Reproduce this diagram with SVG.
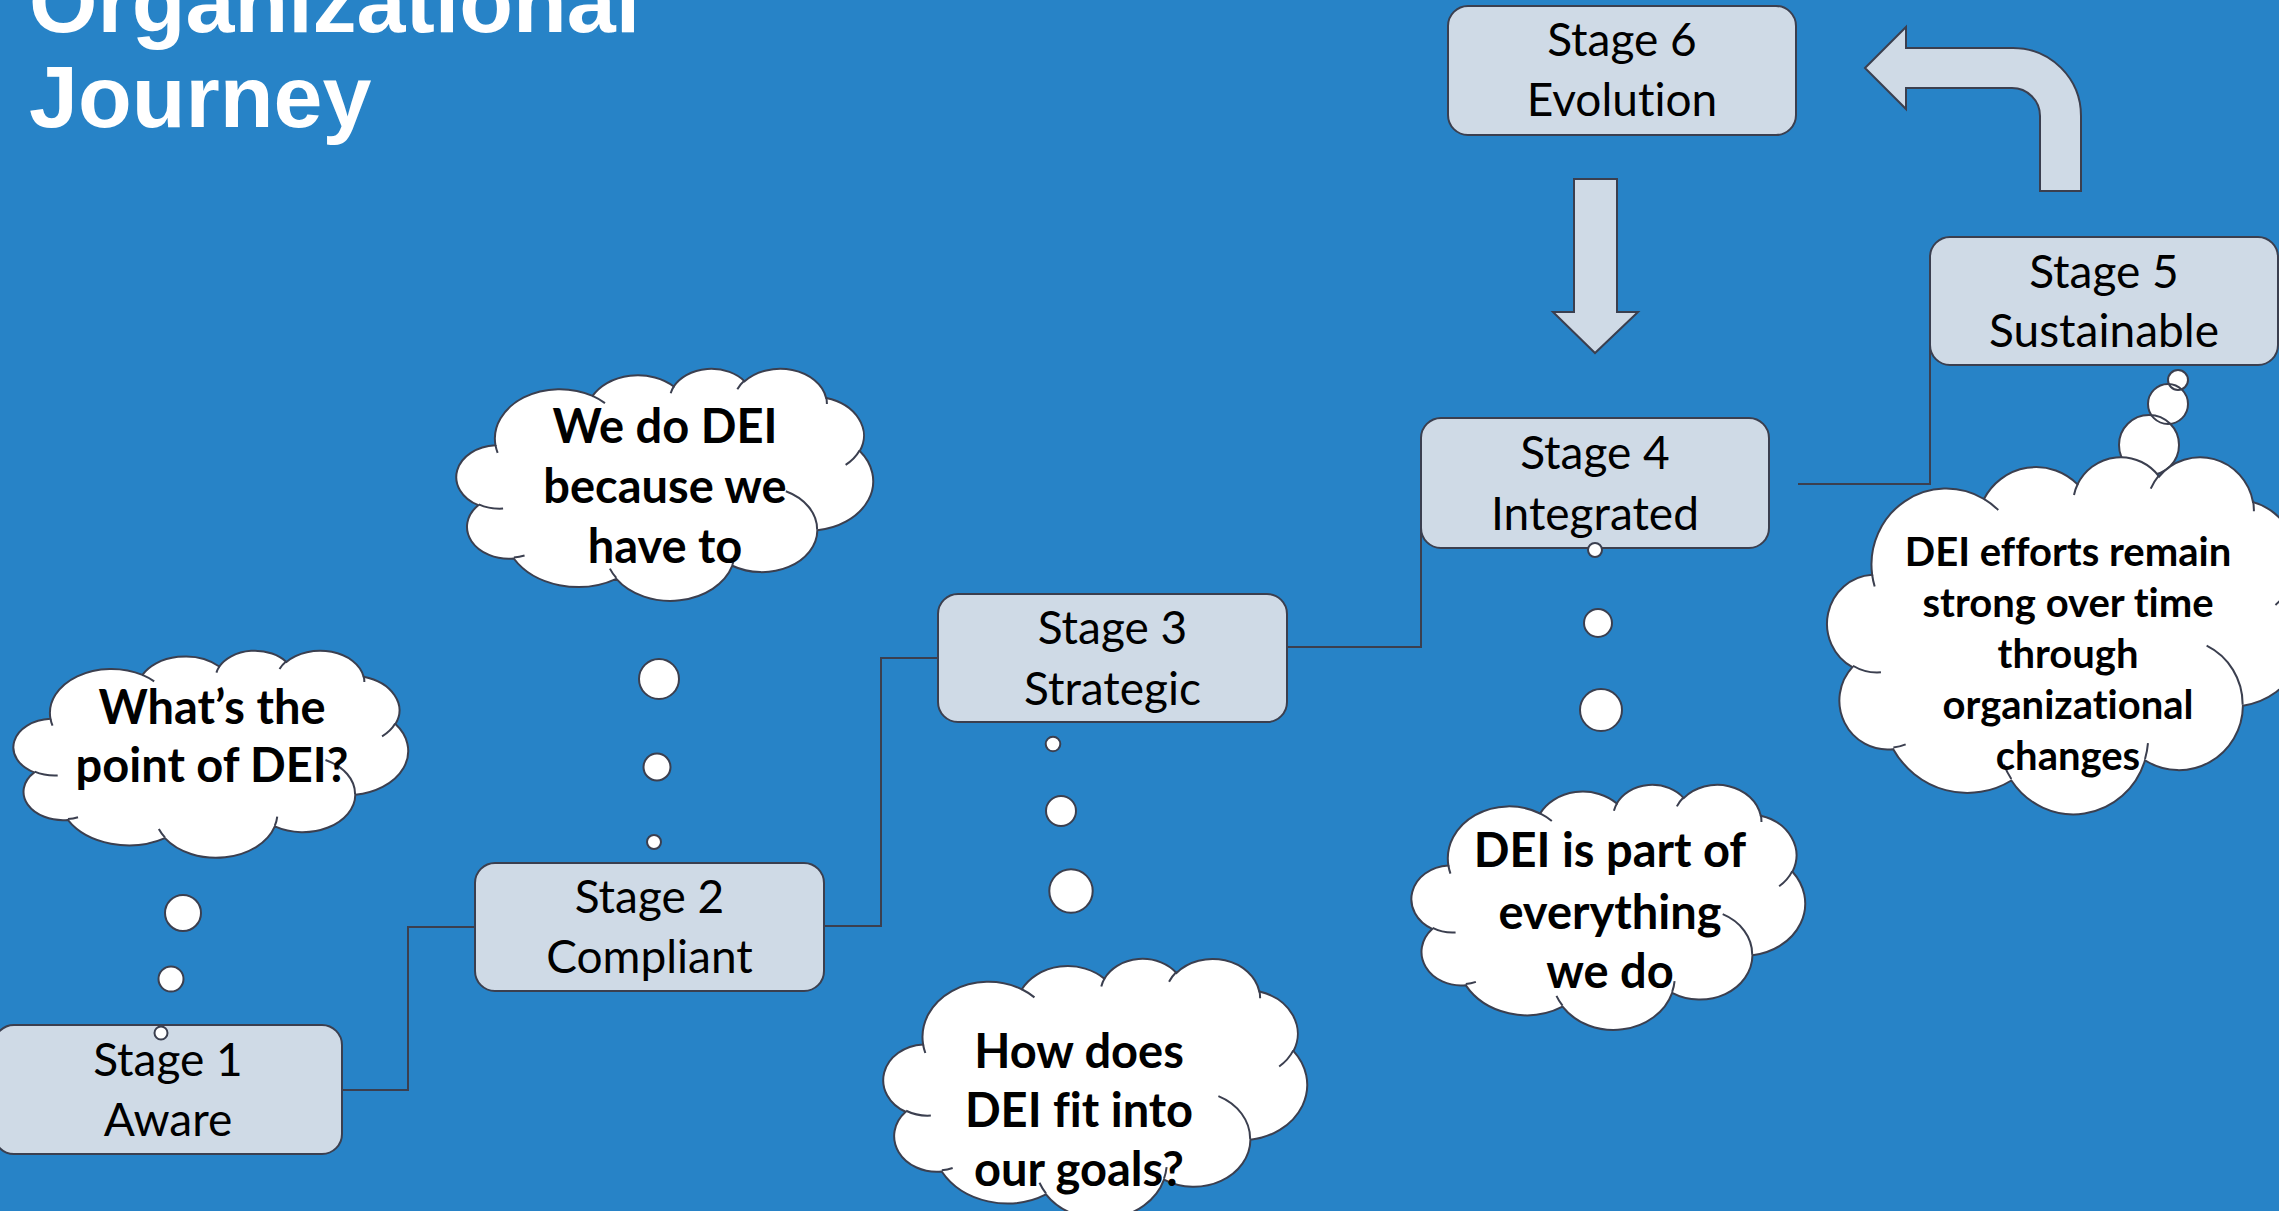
<svg xmlns="http://www.w3.org/2000/svg" xmlns:xlink="http://www.w3.org/1999/xlink" width="2279" height="1211" viewBox="0 0 2279 1211">
  <style>
    .title { font-family: "Liberation Sans", Arial, sans-serif; font-weight: bold; font-size: 88px; fill: #ffffff; }
    .box { fill: #cfdae6; stroke: #3b3f4f; stroke-width: 2; }
    .label { font-family: Lato, "Liberation Sans", sans-serif; font-size: 46px; fill: #000000; text-anchor: middle; font-variant-ligatures: none; }
    .thought { font-family: Lato, "Liberation Sans", sans-serif; font-weight: bold; font-size: 47px; fill: #000000; text-anchor: middle; font-variant-ligatures: none; }
    .thought.small { font-size: 40px; }
    .cloud { fill: #ffffff; stroke: #3b3f4f; stroke-width: 2; }
    .crease { fill: none; stroke: #3b3f4f; stroke-width: 2; }
    .dotfill { fill: #ffffff; stroke: none; }
    .dotline { fill: none; stroke: #3b3f4f; stroke-width: 2; }
    .wire { fill: none; stroke: #3b3f4f; stroke-width: 2; }
    .block { fill: #cfdae6; stroke: #3b3f4f; stroke-width: 2; stroke-linejoin: miter; }
  </style>
  <defs>
    <!-- cloud outline in a 43200 x 43200 unit frame -->
    <path id="cloudOuter" vector-effect="non-scaling-stroke" d="M 3900 14370 A 6753 9190 0 0 1 14006 5203 A 5333 7267 0 0 1 22459 3436 A 4365 5945 0 0 1 29836 2484 A 4857 6595 0 0 1 38320 5581 A 5333 7273 0 0 1 41821 15465 A 6775 9220 0 0 1 37407 30209 A 5785 7867 0 0 1 28558 36818 A 6752 9215 0 0 1 16482 39268 A 7720 10543 0 0 1 5805 35472 A 4360 5918 0 0 1 2116 25547 A 4345 5945 0 0 1 3900 14370 Z"/>
    <!-- the short inner creases of the cloud -->
    <path id="cloudInner" vector-effect="non-scaling-stroke" d="M 4693 26177 A 4345 5945 0 0 1 2160 25380 M 6928 34899 A 4360 5918 0 0 1 5819 35281 M 16478 39090 A 6752 9215 0 0 1 15811 37351 M 28827 34751 A 6752 9215 0 0 1 28561 36659 M 34129 22954 A 5785 7867 0 0 1 37381 30090 M 41798 15354 A 5333 7273 0 0 1 40350 18029 M 38324 5426 A 4857 6595 0 0 1 38400 6690 M 29078 3952 A 4857 6595 0 0 1 29821 2338 M 22141 4720 A 4365 5945 0 0 1 22500 3330 M 14000 5192 A 6753 9190 0 0 1 15299 6540 M 4127 15789 A 6753 9190 0 0 1 3900 14370"/>
  </defs>

  <rect x="0" y="0" width="2279" height="1211" fill="#2783c7"/>

  <g id="title">
    <text class="title" x="29" y="32">Organizational</text>
    <text class="title" x="29" y="127">Journey</text>
  </g>

  <!-- elbow links between consecutive stages -->
  <g id="connectors">
    <path class="wire" d="M 342 1090 H 408 V 927 H 475"/>
    <path class="wire" d="M 824 926 H 881 V 658 H 938"/>
    <path class="wire" d="M 1287 647 H 1421 V 483"/>
    <path class="wire" d="M 1798 484 H 1930 V 301"/>
    <path id="arrow-5-6" class="block" d="M 1865 68 L 1906 27 L 1906 48 L 2013 48 A 68 68 0 0 1 2081 116 L 2081 191 L 2040 191 L 2040 116 A 28 28 0 0 0 2012 88 L 1906 88 L 1906 109 Z"/>
    <path id="arrow-6-4" class="block" d="M 1574 179 H 1617 V 312 H 1638 L 1595 353 L 1553 312 H 1574 Z"/>
  </g>

  <!-- stage boxes -->
  <g id="stage1">
    <rect class="box" x="-6" y="1025" width="348" height="129" rx="20"/>
    <text class="label" x="168" y="1076">Stage 1</text>
    <text class="label" x="168" y="1136">Aware</text>
  </g>
  <g id="stage2">
    <rect class="box" x="475" y="863" width="349" height="128" rx="20"/>
    <text class="label" x="649.5" y="913">Stage 2</text>
    <text class="label" x="649.5" y="973">Compliant</text>
  </g>
  <g id="stage3">
    <rect class="box" x="938" y="594" width="349" height="128" rx="20"/>
    <text class="label" x="1112.5" y="644">Stage 3</text>
    <text class="label" x="1112.5" y="705">Strategic</text>
  </g>
  <g id="stage4">
    <rect class="box" x="1421" y="418" width="348" height="130" rx="20"/>
    <text class="label" x="1595" y="469">Stage 4</text>
    <text class="label" x="1595" y="530">Integrated</text>
  </g>
  <g id="stage5">
    <rect class="box" x="1930" y="237" width="348" height="128" rx="20"/>
    <text class="label" x="2104" y="288">Stage 5</text>
    <text class="label" x="2104" y="347">Sustainable</text>
  </g>
  <g id="stage6">
    <rect class="box" x="1448" y="6" width="348" height="129" rx="20"/>
    <text class="label" x="1622" y="56">Stage 6</text>
    <text class="label" x="1622" y="116">Evolution</text>
  </g>

  <!-- thought clouds with their bubble trails -->
  <g id="thought1">
    <g class="dotfill"><circle cx="183" cy="913" r="18"/><circle cx="171" cy="979" r="12.5"/><circle cx="161" cy="1033" r="6.5"/></g>
    <g class="dotline"><circle cx="183" cy="913" r="18"/><circle cx="171" cy="979" r="12.5"/><circle cx="161" cy="1033" r="6.5"/></g>
    <g transform="translate(15 650) scale(0.0090972 0.0047917)">
      <use xlink:href="#cloudOuter" class="cloud"/>
      <use xlink:href="#cloudInner" class="crease"/>
    </g>
    <text class="thought" x="212" y="724">What’s the</text>
    <text class="thought" x="212" y="782">point of DEI?</text>
  </g>

  <g id="thought2">
    <g class="dotfill"><circle cx="659" cy="679" r="20"/><circle cx="657" cy="767" r="13.5"/><circle cx="654" cy="842" r="7"/></g>
    <g class="dotline"><circle cx="659" cy="679" r="20"/><circle cx="657" cy="767" r="13.5"/><circle cx="654" cy="842" r="7"/></g>
    <g transform="translate(458 368) scale(0.0096065 0.0053704)">
      <use xlink:href="#cloudOuter" class="cloud"/>
      <use xlink:href="#cloudInner" class="crease"/>
    </g>
    <text class="thought" x="665" y="443">We do DEI</text>
    <text class="thought" x="665" y="503">because we</text>
    <text class="thought" x="665" y="563">have to</text>
  </g>

  <g id="thought3">
    <g class="dotfill"><circle cx="1053" cy="744" r="7.3"/><circle cx="1061" cy="811" r="15"/><circle cx="1071" cy="891" r="21.7"/></g>
    <g class="dotline"><circle cx="1053" cy="744" r="7.3"/><circle cx="1061" cy="811" r="15"/><circle cx="1071" cy="891" r="21.7"/></g>
    <g transform="translate(885 958) scale(0.0097685 0.0060185)">
      <use xlink:href="#cloudOuter" class="cloud"/>
      <use xlink:href="#cloudInner" class="crease"/>
    </g>
    <text class="thought" x="1079" y="1068">How does</text>
    <text class="thought" x="1079" y="1127">DEI fit into</text>
    <text class="thought" x="1079" y="1186">our goals?</text>
  </g>

  <g id="thought4">
    <g class="dotfill"><circle cx="1595" cy="550" r="7"/><circle cx="1598" cy="623" r="14"/><circle cx="1601" cy="710" r="21"/></g>
    <g class="dotline"><circle cx="1595" cy="550" r="7"/><circle cx="1598" cy="623" r="14"/><circle cx="1601" cy="710" r="21"/></g>
    <g transform="translate(1413 784) scale(0.0090741 0.0056713)">
      <use xlink:href="#cloudOuter" class="cloud"/>
      <use xlink:href="#cloudInner" class="crease"/>
    </g>
    <text class="thought" x="1610" y="867">DEI is part of</text>
    <text class="thought" x="1610" y="929">everything</text>
    <text class="thought" x="1610" y="988">we do</text>
  </g>

  <g id="thought5">
    <g class="dotfill"><circle cx="2149" cy="445" r="30"/><circle cx="2168" cy="404" r="20"/><circle cx="2178" cy="380" r="10"/></g>
    <g class="dotline"><circle cx="2149" cy="445" r="30"/><circle cx="2168" cy="404" r="20"/><circle cx="2178" cy="380" r="10"/></g>
    <g transform="translate(1829 456) scale(0.0110648 0.0082639)">
      <use xlink:href="#cloudOuter" class="cloud"/>
      <use xlink:href="#cloudInner" class="crease"/>
    </g>
    <text class="thought small" x="2068" y="566">DEI efforts remain</text>
    <text class="thought small" x="2068" y="617">strong over time</text>
    <text class="thought small" x="2068" y="668">through</text>
    <text class="thought small" x="2068" y="719">organizational</text>
    <text class="thought small" x="2068" y="770">changes</text>
  </g>
</svg>
